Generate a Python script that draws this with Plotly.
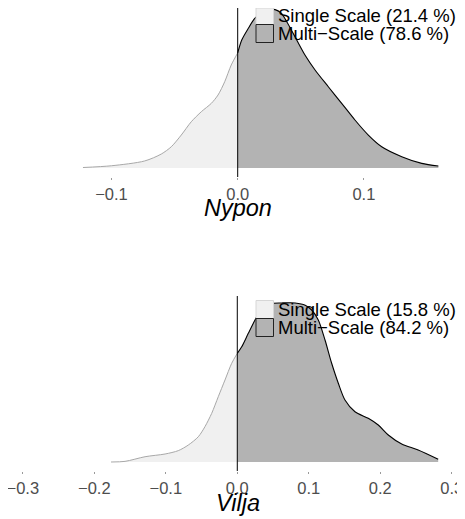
import plotly.graph_objects as go

# ---------------- data ----------------
nypon_x = [-0.1226, -0.100, -0.0737, -0.0605, -0.0526, -0.0447, -0.0368, -0.0288,
           -0.0209, -0.0156, -0.0103, -0.0051, 0.0, 0.0032, 0.0084, 0.0137, 0.019,
           0.0242, 0.0296, 0.0343, 0.039, 0.0454, 0.0533, 0.0613, 0.0718, 0.0824,
           0.0929, 0.1035, 0.1141, 0.130, 0.1458, 0.159]
nypon_y = [0.03, 0.14, 0.44, 0.875, 1.33, 2.06, 2.89, 3.52, 4.04, 4.56, 5.39, 6.44,
           7.19, 8.0, 8.73, 9.36, 9.71, 9.875, 9.9, 9.69, 9.125, 8.2, 7.06, 6.125,
           5.08, 4.04, 3.0, 2.06, 1.33, 0.71, 0.29, 0.125]

vilja_x = [-0.1766, -0.157, -0.129, -0.101, -0.0825, -0.0685, -0.0545, -0.0452,
           -0.0358, -0.0266, -0.0172, -0.0078, 0.0, 0.0062, 0.0154, 0.0248, 0.034,
           0.046, 0.062, 0.081, 0.095, 0.104, 0.1133, 0.1227, 0.132, 0.1413, 0.1506,
           0.1646, 0.1832, 0.1972, 0.2112, 0.230, 0.253, 0.281]
vilja_y = [0.0, 0.04, 0.33, 0.5, 0.71, 1.06, 1.58, 2.21, 3.04, 4.08, 5.125, 6.17,
           6.79, 7.2, 8.04, 8.875, 9.6, 9.9, 9.94, 9.94, 9.8, 9.5, 8.875, 7.625, 6.17,
           4.92, 3.875, 3.14, 2.73, 2.31, 1.69, 1.125, 0.75, 0.17]

panel_titles = ["Nypon", "Vilja"]
legend_labels = [["Single Scale (21.4 %)", "Multi\u2212Scale (78.6 %)"],
                 ["Single Scale (15.8 %)", "Multi\u2212Scale (84.2 %)"]]
tick_vals = [[-0.1, 0.0, 0.1], [-0.3, -0.2, -0.1, 0.0, 0.1, 0.2, 0.3]]

# ---------------- layout helpers ----------------
# The page body has an 8px margin, so the figure sits at (8, 8) in the window.
OFF = 8
W, H = 465 - OFF, 519 - OFF
def px(x):
    return (x - OFF) / W
def py(y):
    return 1 - (y - OFF) / H

FONT = "Liberation Sans, Arial, Helvetica, sans-serif"
LIGHT_FILL, LIGHT_LINE = "#F0F0F0", "#A8A8A8"
DARK_FILL, DARK_LINE = "#B3B3B3", "#000000"

fig = go.Figure()

panels = [
    dict(x=nypon_x, y=nypon_y, xa="x", ya="y", xrange=[-0.1820, 0.1801],
         ydom=[py(177), py(OFF)], yrange=[-0.5625, (168 - OFF) / 16], off=0,
         vtop=OFF, vbot=177),
    dict(x=vilja_x, y=vilja_y, xa="x2", ya="y2", xrange=[-0.3207, 0.3185],
         ydom=[py(471), py(296)], yrange=[-0.5625, 10.375], off=294,
         vtop=296, vbot=471),
]

shapes = []
annotations = []
for i, p in enumerate(panels):
    lx = [v for v in p["x"] if v <= 0]
    ly = [d for v, d in zip(p["x"], p["y"]) if v <= 0]
    rx = [v for v in p["x"] if v >= 0]
    ry = [d for v, d in zip(p["x"], p["y"]) if v >= 0]
    fig.add_trace(go.Scatter(x=lx, y=ly, xaxis=p["xa"], yaxis=p["ya"], mode="lines",
                             line=dict(color=LIGHT_LINE, width=1, shape="spline", smoothing=0.8),
                             fill="tozeroy", fillcolor=LIGHT_FILL, showlegend=False,
                             hoverinfo="skip"))
    fig.add_trace(go.Scatter(x=rx, y=ry, xaxis=p["xa"], yaxis=p["ya"], mode="lines",
                             line=dict(color=DARK_LINE, width=1.1, shape="spline", smoothing=0.8),
                             fill="tozeroy", fillcolor=DARK_FILL, showlegend=False,
                             hoverinfo="skip"))
    # zero vertical line (from panel top down to panel bottom)
    shapes.append(dict(type="line", xref=p["xa"], yref="paper",
                       x0=0, x1=0, y0=py(p["vbot"]), y1=py(p["vtop"]),
                       line=dict(color="black", width=1)))
    o = p["off"]
    # legend keys
    shapes.append(dict(type="rect", xref="paper", yref="paper",
                       x0=px(256), x1=px(273.5), y0=py(24.5 + o), y1=py(max(6.5 + o, OFF)),
                       fillcolor=LIGHT_FILL, line=dict(color="#D6D6D6", width=1)))
    shapes.append(dict(type="rect", xref="paper", yref="paper",
                       x0=px(256), x1=px(273.5), y0=py(42.5 + o), y1=py(24.5 + o),
                       fillcolor=DARK_FILL, line=dict(color="#222222", width=1)))
    for j, lab in enumerate(legend_labels[i]):
        annotations.append(dict(text=lab, xref="paper", yref="paper",
                                x=px(276), y=py(15.5 + 18 * j + o),
                                xanchor="left", yanchor="middle", showarrow=False,
                                font=dict(family=FONT, size=18.5, color="black")))
    annotations.append(dict(text="<i>" + panel_titles[i] + "</i>", xref="paper", yref="paper",
                            x=px(238), y=py(208.5 + o), xanchor="center", yanchor="middle",
                            showarrow=False, font=dict(family=FONT, size=23.5, color="black")))

axis_common = dict(showgrid=False, zeroline=False, showline=False, ticks="outside",
                   ticklen=2, tickwidth=1, tickcolor="#9A9A9A", tickformat=".1f",
                   tickfont=dict(family=FONT, size=16.5, color="#4D4D4D"),
                   ticklabeloverflow="allow", domain=[0, 1], fixedrange=True)

fig.update_layout(
    width=W, height=H, margin=dict(l=0, r=0, t=0, b=0),
    paper_bgcolor="white", plot_bgcolor="white",
    xaxis=dict(**axis_common, range=panels[0]["xrange"], tickvals=tick_vals[0], anchor="y"),
    yaxis=dict(visible=False, domain=panels[0]["ydom"], range=panels[0]["yrange"], anchor="x"),
    xaxis2=dict(**axis_common, range=panels[1]["xrange"], tickvals=tick_vals[1], anchor="y2"),
    yaxis2=dict(visible=False, domain=panels[1]["ydom"], range=panels[1]["yrange"], anchor="x2"),
    shapes=shapes, annotations=annotations, showlegend=False,
)

fig.write_html("out.html")
